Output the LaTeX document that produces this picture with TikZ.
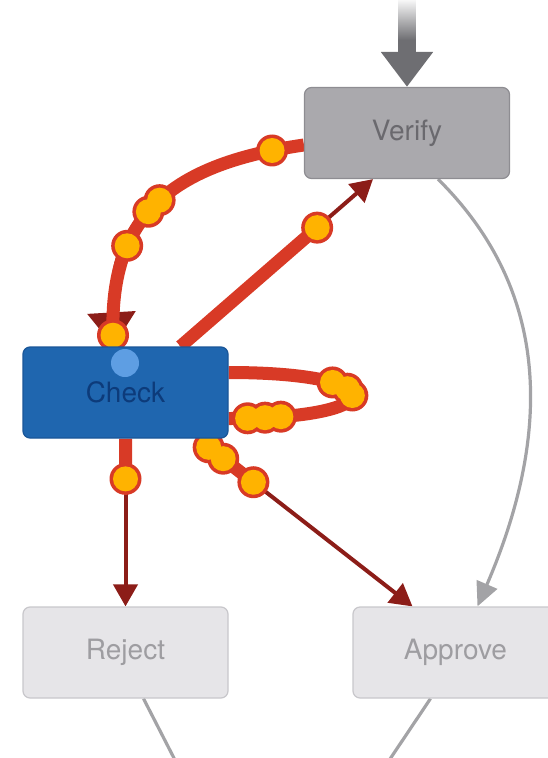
\documentclass[tikz,border=0pt]{standalone}
\usepackage{fontspec}
\setmainfont{TeX Gyre Heros}
\usepackage{tikz}
\usetikzlibrary{arrows.meta, positioning, calc, backgrounds, fadings}

\definecolor{vfill}{HTML}{AAA9AD}
\definecolor{vline}{HTML}{8E8D92}
\definecolor{vtext}{HTML}{6A696E}
\definecolor{ifill}{HTML}{E6E5E8}
\definecolor{iline}{HTML}{C8C7CB}
\definecolor{itext}{HTML}{9E9DA1}
\definecolor{cfill}{HTML}{1F66AF}
\definecolor{cline}{HTML}{1A5698}
\definecolor{ctext}{HTML}{0D3B7A}
\definecolor{cursor}{HTML}{5E9EE3}
\definecolor{darkred}{HTML}{8C1D18}
\definecolor{hotred}{HTML}{D83A26}
\definecolor{amber}{HTML}{FFB300}
\definecolor{lgrey}{HTML}{A3A3A6}
\definecolor{topgrey}{HTML}{6E6E72}

\begin{document}
\begin{tikzpicture}[
    x=1pt, y=-1pt,
    box/.style={rectangle, rounded corners=7pt, line width=1.2pt, minimum width=205pt, minimum height=91pt, font=\fontsize{28}{30}\selectfont},
    greybox/.style={box, fill=vfill, draw=vline, text=vtext},
    idle/.style={box, fill=ifill, draw=iline, text=itext},
    active/.style={box, fill=cfill, draw=cline, text=ctext},
    flow/.style={draw=darkred, line width=4pt, -{Triangle[width=24pt,length=22pt]}},
    faint/.style={draw=lgrey, line width=3.2pt},
    hot/.style={draw=hotred, line width=13pt}
]
\useasboundingbox (0,0) rectangle (548,758);
\clip (0,0) rectangle (548,758);

\node [greybox] (verify) at (407,133) {Verify};
\node [active] (check) at (125.5,392.5) {Check};
\node [idle] (reject) at (125.5,652.5) {Reject};
\node [idle] (approve) at (455.5,652.5) {Approve};
\node [circle, fill=cursor, inner sep=0pt, minimum size=28pt] (cur) at (125,363) {};

\coordinate (entry) at (407,-2);
\coordinate (cv1) at ($(check.north)+(55,0)$);
\coordinate (cv2) at ($(verify.south)+(-34,0)$);
\coordinate (ca1) at ($(check.south)+(72,0)$);
\coordinate (ca2) at ($(approve.north)+(-43,0)$);
\coordinate (rejectOut) at (176,762);
\coordinate (approveOut) at (388,762);

\begin{scope}[on background layer]
    \draw[draw=topgrey, line width=18pt, -{Triangle[width=50pt,length=35pt]}] (entry) -- (verify);
    \fill[white, path fading=south] (380,-2) rectangle (434,40);

    \draw[faint, -{Triangle[width=22pt,length=24pt]}] ($(verify.south)+(31,0)$) .. controls (560,300) and (545,450) .. ($(approve.north)+(22,0)$);
    \draw[faint] ($(reject.south)+(18,0)$) -- (rejectOut);
    \draw[faint] ($(approve.south)+(-25,0)$) -- (approveOut);

    \draw[flow] (check.south) -- (reject.north);
    \draw[flow] (ca1) -- (ca2);
    \draw[flow] (cv1) -- (cv2);

    % tokens moving along the arcs
    \draw[hot, preaction={draw=darkred, line width=3pt, -{Triangle[width=48pt,length=34pt]}}]
        ($(verify.west)+(0,12)$) .. controls (165,165) and (106,220) .. ($(check.north)+(-12,0)$)
        coordinate[pos=.08] (k1) coordinate[pos=.47] (k2) coordinate[pos=.53] (k3)
        coordinate[pos=.68] (k4) coordinate[pos=.97] (k5);
    \draw[hot] (cv1) -- ($(cv1)!0.71!(cv2)$) coordinate (k6);
    \draw[hot] (check.south) -- ($(check.south)!0.24!(reject.north)$) coordinate (k7);
    \draw[hot] (ca1) -- ($(ca1)!0.26!(ca2)$) coordinate (k8)
        coordinate[pos=.2] (k9) coordinate[pos=.46] (k10);
    \draw[hot] ($(check.east)+(0,-20)$) .. controls +(165,0) and +(165,0) .. ($(check.east)+(0,26)$)
        coordinate[pos=.3] (k11) coordinate[pos=.4] (k12) coordinate[pos=.5] (k13)
        coordinate[pos=.88] (k14) coordinate[pos=.92] (k15) coordinate[pos=.96] (k16);

    \foreach \k in {k1,k2,k3,k4,k5,k6,k7,k8,k9,k10,k11,k12,k13,k14,k15,k16}
        \fill[hotred] (\k) circle (16pt);
    \foreach \k in {k1,k2,k3,k4,k5,k6,k7,k8,k9,k10,k11,k12,k13,k14,k15,k16}
        \fill[amber] (\k) circle (12.5pt);
\end{scope}
\end{tikzpicture}
\end{document}
